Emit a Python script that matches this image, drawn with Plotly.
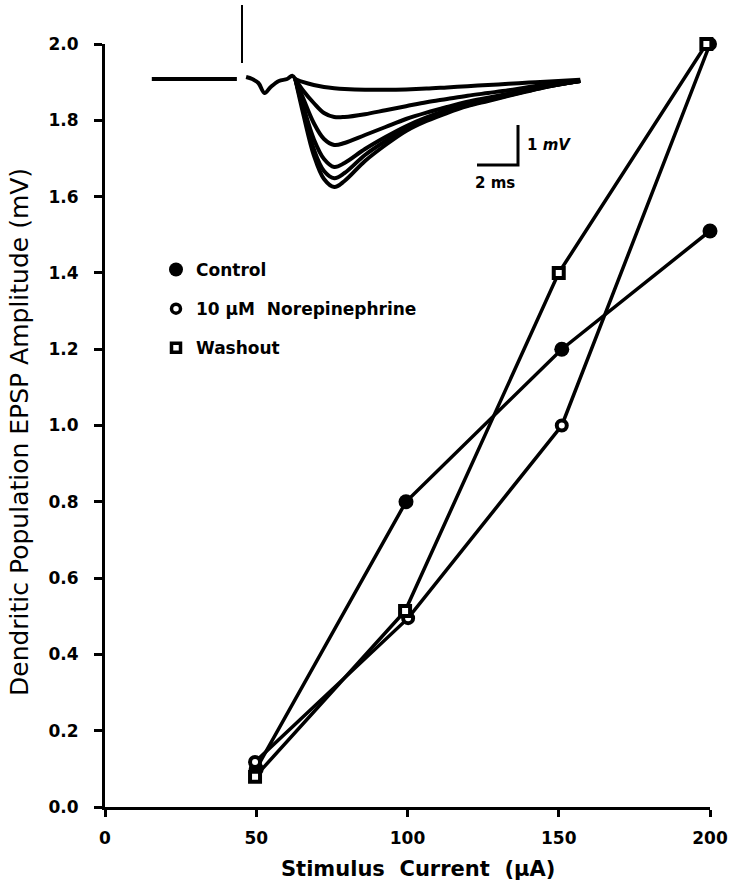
import plotly.graph_objects as go

# ---------------- data ----------------
current_ticks = [0, 50, 100, 150, 200]
amp_ticks = [0.0, 0.2, 0.4, 0.6, 0.8, 1.0, 1.2, 1.4, 1.6, 1.8, 2.0]

control_x = [50, 99.5, 151, 200]
control_y = [0.10, 0.80, 1.20, 1.51]

ne_x = [49.6, 100.2, 151, 200]
ne_y = [0.118, 0.495, 1.00, 2.00]

wash_x = [49.6, 99.2, 150, 198.8]
wash_y = [0.079, 0.514, 1.40, 2.00]

# inset EPSP traces (time in ms after stimulus, voltage in mV)
pre_t = [-4.4, -3.0, -1.5, -0.25]
pre_v = [0.0, 0.0, 0.02, 0.0]
artifact_t = [0.0, 0.0]
artifact_v = [0.4, 1.85]
early_t = [0.2, 0.5, 0.8, 1.1, 1.4, 1.8, 2.2, 2.45, 2.6]
early_v = [0.05, 0.0, -0.1, -0.35, -0.2, -0.05, 0.0, 0.08, 0.0]

epsp_t = [2.6, 3.0, 3.5, 4.0, 4.5, 5.0, 6.0, 7.0, 8.0, 9.0, 10.0, 11.0, 12.0, 13.0, 14.0, 15.0, 16.5]
epsp_v = [
    [0, -0.08, -0.15, -0.2, -0.23, -0.25, -0.27, -0.27, -0.26, -0.24, -0.21, -0.18, -0.15, -0.12, -0.09, -0.06, -0.02],
    [0, -0.3, -0.6, -0.85, -0.95, -0.95, -0.88, -0.78, -0.68, -0.58, -0.5, -0.42, -0.35, -0.28, -0.2, -0.13, -0.04],
    [0, -0.5, -1.1, -1.5, -1.65, -1.6, -1.4, -1.2, -1.0, -0.84, -0.7, -0.57, -0.47, -0.37, -0.27, -0.17, -0.05],
    [0, -0.7, -1.5, -2.0, -2.2, -2.1, -1.75, -1.45, -1.18, -0.96, -0.78, -0.63, -0.51, -0.4, -0.28, -0.17, -0.05],
    [0, -0.8, -1.75, -2.3, -2.48, -2.35, -1.9, -1.55, -1.25, -1.0, -0.82, -0.66, -0.53, -0.41, -0.29, -0.18, -0.05],
    [0, -0.9, -1.9, -2.5, -2.7, -2.55, -2.05, -1.65, -1.3, -1.05, -0.85, -0.68, -0.55, -0.42, -0.3, -0.18, -0.05],
]

legend_names = ["Control", "10 \u03bcM  Norepinephrine", "Washout"]

# ---------------- layout geometry ----------------
W, H = 737, 885
ML, MR, MT, MB = 105, 27, 0, 78
PW = W - ML - MR
PH = H - MT - MB
Y_TOP_PX = 44  # pixel of y=2.0

def px_x(p):
    return (p - ML) / PW

def px_y(p):
    return (H - MB - p) / PH

# inset mapping
STIM_PX, BASE_PX = 242, 79
PX_MS, PX_MV = 20.5, 40.0
INS_L, INS_R, INS_T, INS_B = 150, 590, 0, 200

FONT_B = "DejaVu Sans"

fig = go.Figure()

line = dict(color="black", width=3.5)

fig.add_trace(go.Scatter(x=control_x, y=control_y, mode="lines+markers", line=line,
                         marker=dict(symbol="circle", size=15, color="black"),
                         showlegend=False, cliponaxis=False))
fig.add_trace(go.Scatter(x=ne_x, y=ne_y, mode="lines+markers", line=line,
                         marker=dict(symbol="circle", size=10, color="white",
                                     line=dict(color="black", width=4)),
                         showlegend=False, cliponaxis=False))
fig.add_trace(go.Scatter(x=wash_x, y=wash_y, mode="lines+markers", line=line,
                         marker=dict(symbol="square", size=10, color="white",
                                     line=dict(color="black", width=4)),
                         showlegend=False, cliponaxis=False))

# legend-only entries
leg_markers = [
    dict(symbol="circle", size=14, color="black"),
    dict(symbol="circle", size=9, color="white", line=dict(color="black", width=3.5)),
    dict(symbol="square", size=9, color="white", line=dict(color="black", width=3.5)),
]
for i, (name, mk) in enumerate(zip(legend_names, leg_markers)):
    fig.add_trace(go.Scatter(x=[None], y=[None], mode="markers", marker=mk, name=name,
                             legendgroup=str(i), showlegend=True))

# inset traces
ins = dict(xaxis="x2", yaxis="y2", mode="lines", showlegend=False, hoverinfo="skip")
fig.add_trace(go.Scatter(x=pre_t, y=pre_v, line=dict(color="black", width=4), **ins))
fig.add_trace(go.Scatter(x=artifact_t, y=artifact_v, line=dict(color="black", width=2), **ins))
fig.add_trace(go.Scatter(x=early_t, y=early_v, line=dict(color="black", width=4, shape="spline"), **ins))
for v in epsp_v:
    fig.add_trace(go.Scatter(x=epsp_t, y=v, line=dict(color="black", width=4, shape="spline"), **ins))

# scale bar (1 mV / 2 ms)
sb_t = (518 - STIM_PX) / PX_MS
sb_v0 = (BASE_PX - 165) / PX_MV
fig.add_trace(go.Scatter(x=[sb_t - 2, sb_t, sb_t], y=[sb_v0, sb_v0, sb_v0 + 1],
                         line=dict(color="black", width=3), **ins))

fig.add_annotation(x=sb_t + 0.35, y=sb_v0 + 0.5, xref="x2", yref="y2", text="1 <i>mV</i>",
                   showarrow=False, xanchor="left", yanchor="middle",
                   font=dict(family=FONT_B, size=15, color="black", weight="bold"))
fig.add_annotation(x=sb_t - 1.1, y=sb_v0 - 0.45, xref="x2", yref="y2", text="2 ms",
                   showarrow=False, xanchor="center", yanchor="middle",
                   font=dict(family=FONT_B, size=15, color="black", weight="bold"))

# axis titles
fig.add_annotation(x=px_x(20), y=px_y(432), xref="paper", yref="paper",
                   text="Dendritic Population EPSP Amplitude (mV)", textangle=-90,
                   showarrow=False, xanchor="center", yanchor="middle",
                   font=dict(family="DejaVu Sans", size=25, color="black"))
fig.add_annotation(x=px_x(418), y=px_y(869), xref="paper", yref="paper",
                   text="Stimulus  Current  (\u03bcA)",
                   showarrow=False, xanchor="center", yanchor="middle",
                   font=dict(family=FONT_B, size=21, color="black", weight="bold"))

tickfont = dict(family=FONT_B, size=17, color="black", weight="bold")

fig.update_layout(
    width=W, height=H,
    margin=dict(l=ML, r=MR, t=MT, b=MB, pad=0, autoexpand=False),
    paper_bgcolor="white", plot_bgcolor="white",
    showlegend=True,
    legend=dict(x=px_x(156), y=px_y(252), xanchor="left", yanchor="top",
                font=dict(family=FONT_B, size=17, color="black", weight="bold"),
                bgcolor="rgba(0,0,0,0)", tracegroupgap=14, itemwidth=30),
    xaxis=dict(range=[0, 200], tickvals=current_ticks, ticktext=[str(t) for t in current_ticks],
               showgrid=False, zeroline=False, showline=True, linecolor="black", linewidth=3,
               ticks="outside", ticklen=7, tickwidth=3, tickcolor="black", automargin=False,
               tickfont=tickfont, ticklabelstandoff=7, domain=[0, 1], anchor="y"),
    yaxis=dict(range=[0, 2.0], tickvals=amp_ticks, ticktext=[f"{t:.1f}" for t in amp_ticks],
               showgrid=False, zeroline=False, showline=True, linecolor="black", linewidth=3,
               ticks="outside", ticklen=8, tickwidth=3, tickcolor="black", automargin=False,
               tickfont=tickfont, ticklabelstandoff=12,
               domain=[0, px_y(Y_TOP_PX)], anchor="x"),
    xaxis2=dict(domain=[px_x(INS_L), px_x(INS_R)],
                range=[(INS_L - STIM_PX) / PX_MS, (INS_R - STIM_PX) / PX_MS],
                visible=False, anchor="y2", fixedrange=True, automargin=False),
    yaxis2=dict(domain=[px_y(INS_B), min(1.0, px_y(INS_T))],
                range=[(BASE_PX - INS_B) / PX_MV, (BASE_PX - INS_T) / PX_MV],
                visible=False, anchor="x2", fixedrange=True, automargin=False),
)

fig.write_html("out.html")
